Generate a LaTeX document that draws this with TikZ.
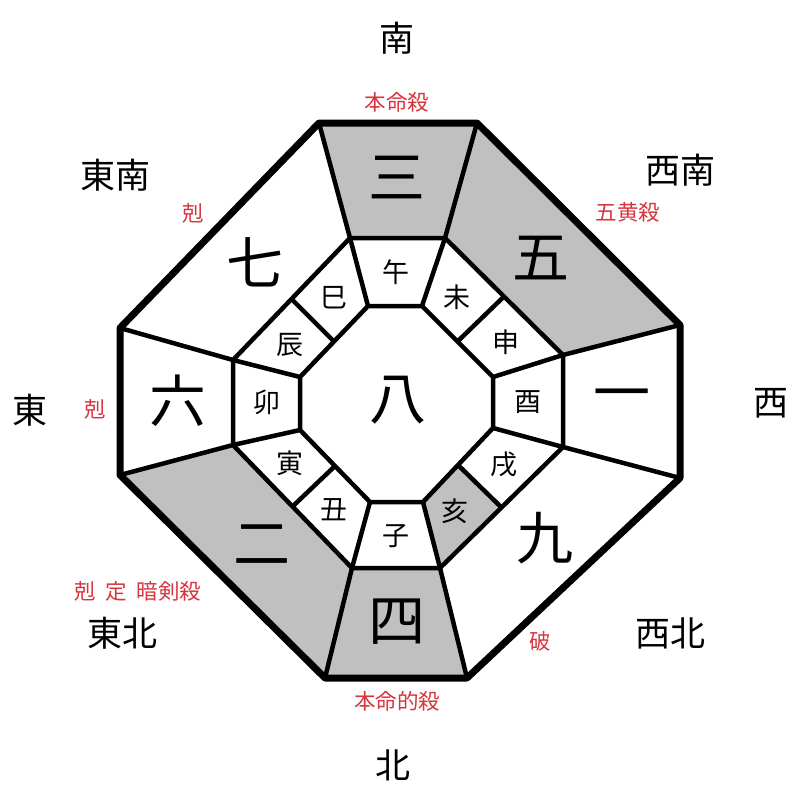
\documentclass[tikz,border=0pt]{standalone}
\usepackage{fontspec}
\newfontfamily\cjk{Noto Sans CJK JP}
\usetikzlibrary{calc}
\definecolor{cellgray}{RGB}{192,192,192}
\definecolor{labred}{RGB}{214,52,62}
\tikzset{
  outerline/.style={line width=7pt,line join=bevel},
  innerline/.style={line width=4.5pt,line join=round},
  numtxt/.style={font=\cjk\fontsize{57}{57}\selectfont,inner sep=0pt},
  brtxt/.style={font=\cjk\fontsize{27}{27}\selectfont,inner sep=0pt},
  dirtxt/.style={font=\cjk\fontsize{35}{35}\selectfont,inner sep=0pt},
  redtxt/.style={font=\cjk\fontsize{21.5}{21.5}\selectfont,text=labred,inner sep=0pt},
}
\begin{document}
\begin{tikzpicture}[x=1pt,y=-1pt]
\useasboundingbox (0,0) rectangle (800,800);
% outer
\coordinate (O1) at (319,123); \coordinate (O2) at (477,123);
\coordinate (O3) at (680,325); \coordinate (O4) at (680,478);
\coordinate (O5) at (467,678); \coordinate (O6) at (325,678);
\coordinate (O7) at (120,475); \coordinate (O8) at (120,328);
% middle
\coordinate (M1) at (350,238); \coordinate (M2) at (445,238);
\coordinate (M3) at (563,355); \coordinate (M4) at (563,447);
\coordinate (M5) at (440,568); \coordinate (M6) at (352,568);
\coordinate (M7) at (233,445); \coordinate (M8) at (233,360);
% inner
\coordinate (I1) at (368,306); \coordinate (I2) at (422,306);
\coordinate (I3) at (493,377); \coordinate (I4) at (493,428);
\coordinate (I5) at (423,502); \coordinate (I6) at (370,502);
\coordinate (I7) at (300,430); \coordinate (I8) at (300,377);
% split points
\coordinate (Ma) at ($(M8)!0.5!(M1)$); \coordinate (Ia) at ($(I8)!0.5!(I1)$);
\coordinate (Mb) at ($(M2)!0.5!(M3)$); \coordinate (Ib) at ($(I2)!0.5!(I3)$);
\coordinate (Mc) at ($(M4)!0.5!(M5)$); \coordinate (Ic) at ($(I4)!0.5!(I5)$);
\coordinate (Md) at ($(M6)!0.5!(M7)$); \coordinate (Id) at ($(I6)!0.5!(I7)$);
% gray cells
\fill[cellgray] (O1) -- (O2) -- (M2) -- (M1) -- cycle;
\fill[cellgray] (O2) -- (O3) -- (M3) -- (M2) -- cycle;
\fill[cellgray] (O5) -- (O6) -- (M6) -- (M5) -- cycle;
\fill[cellgray] (O6) -- (O7) -- (M7) -- (M6) -- cycle;
\fill[cellgray] (Mc) -- (M5) -- (I5) -- (Ic) -- cycle;
% lines
\foreach \k in {1,...,8} { \draw[innerline] (O\k) -- (M\k) -- (I\k); }
\draw[innerline] (M1) -- (M2) -- (M3) -- (M4) -- (M5) -- (M6) -- (M7) -- (M8) -- cycle;
\draw[innerline] (I1) -- (I2) -- (I3) -- (I4) -- (I5) -- (I6) -- (I7) -- (I8) -- cycle;
\draw[innerline] (Ma) -- (Ia);
\draw[innerline] (Mb) -- (Ib);
\draw[innerline] (Mc) -- (Ic);
\draw[innerline] (Md) -- (Id);
\draw[outerline] (O1) -- (O2) -- (O3) -- (O4) -- (O5) -- (O6) -- (O7) -- (O8) -- cycle;
% numbers
\node[numtxt] (n3) at (397,178) {三};
\node[numtxt] (n5) at (541,258) {五};
\node[numtxt] (n1) at (622,401) {一};
\node[numtxt] (n9) at (545,538) {九};
\node[numtxt] (n4) at (397,622) {四};
\node[numtxt] (n2) at (262,545) {二};
\node[numtxt] (n6) at (178,401) {六};
\node[numtxt] (n7) at (255,262) {七};
\node[numtxt] (n8) at (398,400) {八};
% branches
\node[brtxt] (b1) at (396,272) {午};
\node[brtxt] (b2) at (457,297) {未};
\node[brtxt] (b3) at (506,342) {申};
\node[brtxt] (b4) at (528,402) {酉};
\node[brtxt] (b5) at (504,464) {戌};
\node[brtxt] (b6) at (455,511) {亥};
\node[brtxt] (b7) at (396,536) {子};
\node[brtxt] (b8) at (334,510) {丑};
\node[brtxt] (b9) at (290,463) {寅};
\node[brtxt] (b10) at (267,402) {卯};
\node[brtxt] (b11) at (290,345) {辰};
\node[brtxt] (b12) at (334,298) {巳};
% directions
\node[dirtxt] (dS) at (397,38) {南};
\node[dirtxt] (dSW) at (680,170) {西南};
\node[dirtxt] (dW) at (771,403) {西};
\node[dirtxt] (dNW) at (670,633) {西北};
\node[dirtxt] (dN) at (393,765) {北};
\node[dirtxt] (dNE) at (122,633) {東北};
\node[dirtxt] (dE) at (30,410) {東};
\node[dirtxt] (dSE) at (115,175) {東南};
% red labels
\node[redtxt] (r1) at (397,102) {本命殺};
\node[redtxt] (r2) at (628,212) {五黄殺};
\node[redtxt] (r3) at (193,213) {剋};
\node[redtxt] (r4) at (95,409) {剋};
\node[redtxt] (r5) at (138,591) {剋\hspace{0.45em}定\hspace{0.45em}暗剣殺};
\node[redtxt] (r6) at (397,701) {本命的殺};
\node[redtxt] (r7) at (540,641) {破};
\end{tikzpicture}
\end{document}
